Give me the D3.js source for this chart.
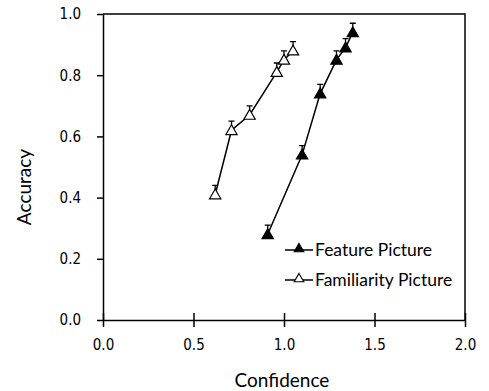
<!DOCTYPE html>
<html>
<head>
<meta charset="utf-8">
<script src="https://cdn.jsdelivr.net/npm/d3@7"></script>
<style>
  body { margin: 0; background: #fff; }
  .tick-label { font-family: "Liberation Sans Narrow", "DejaVu Sans Condensed", sans-serif; font-size: 15px; }
  .lbl { font-family: Lato, "Open Sans", sans-serif; font-size: 19px; }
  .leg { font-family: Lato, "Open Sans", sans-serif; font-size: 17.5px; }
</style>
</head>
<body>
<svg id="chart" width="489" height="391"></svg>
<script>
// data
var featConf = [0.91, 1.10, 1.20, 1.29, 1.34, 1.38];
var featAcc  = [0.28, 0.54, 0.74, 0.85, 0.89, 0.94];
var featErr  = [0.02, 0.02, 0.02, 0.02, 0.02, 0.02];
var famConf  = [0.62, 0.71, 0.81, 0.96, 1.00, 1.05];
var famAcc   = [0.41, 0.62, 0.67, 0.81, 0.85, 0.88];
var famErr   = [0.02, 0.02, 0.02, 0.02, 0.02, 0.02];
var xTicks = [0, 0.5, 1.0, 1.5, 2.0];
var yTicks = [0, 0.2, 0.4, 0.6, 0.8, 1.0];
var seriesNames = ["Feature Picture", "Familiarity Picture"];

var svg = d3.select("#chart");
var x = d3.scaleLinear().domain([0, 2]).range([103, 465]),
    y = d3.scaleLinear().domain([0, 1]).range([320, 14]);

// frame (top + right)
svg.append("path")
    .attr("d", "M" + x(0) + "," + y(1) + "H" + x(2) + "V" + y(0))
    .attr("fill", "none").attr("stroke", "#000").attr("stroke-width", 1.5);

// axes
var xAxis = svg.append("g").attr("transform", "translate(0," + y(0) + ")")
    .call(d3.axisBottom(x).tickValues(xTicks).tickFormat(d3.format(".1f")).tickSizeInner(7).tickSizeOuter(0).tickPadding(12));
xAxis.selectAll(".tick line").attr("y1", -7);
var yAxis = svg.append("g").attr("transform", "translate(" + x(0) + ",0)")
    .call(d3.axisLeft(y).tickValues(yTicks).tickFormat(d3.format(".1f")).tickSizeInner(6).tickSizeOuter(0).tickPadding(16));
[xAxis, yAxis].forEach(function(a) {
    a.select(".domain").attr("stroke-width", 1.5);
    a.selectAll(".tick line").attr("stroke-width", 1.5);
    a.selectAll("text").attr("class", "tick-label").attr("font-size", null).attr("font-family", null).attr("fill", "#000");
});

// axis titles
svg.append("text").attr("class", "lbl").attr("x", 282).attr("y", 387)
    .attr("text-anchor", "middle").text("Confidence");
svg.append("text").attr("class", "lbl")
    .attr("transform", "translate(31,187) rotate(-90)")
    .attr("text-anchor", "middle").text("Accuracy");

var tri = d3.symbol().type(d3.symbolTriangle).size(55);

function drawSeries(cx, cy, err, filled) {
    var pts = cx.map(function(d, i) { return [d, cy[i], err[i]]; });
    var g = svg.append("g");
    g.append("path").datum(pts)
        .attr("d", d3.line().x(function(d) { return x(d[0]); }).y(function(d) { return y(d[1]); }))
        .attr("fill", "none").attr("stroke", "#000").attr("stroke-width", 1.5);
    // error bars (upper)
    g.selectAll(".eb").data(pts).enter().append("path")
        .attr("d", function(d) {
            var px = x(d[0]), top = y(d[1] + d[2]) - 3;
            return "M" + px + "," + y(d[1]) + "V" + top + "M" + (px - 3) + "," + top + "H" + (px + 3);
        })
        .attr("fill", "none").attr("stroke", "#000").attr("stroke-width", 1.3);
    g.selectAll(".pt").data(pts).enter().append("path")
        .attr("d", tri)
        .attr("transform", function(d) { return "translate(" + x(d[0]) + "," + (y(d[1]) + 1) + ")"; })
        .attr("fill", filled ? "#000" : "#fff").attr("stroke", "#000").attr("stroke-width", 1.2);
}
drawSeries(famConf, famAcc, famErr, false);
drawSeries(featConf, featAcc, featErr, true);

// legend
var leg = svg.append("g");
seriesNames.forEach(function(name, i) {
    var ly = 250 + i * 30;
    leg.append("line").attr("x1", 285).attr("x2", 313).attr("y1", ly).attr("y2", ly)
        .attr("stroke", "#000").attr("stroke-width", 1.5);
    leg.append("path").attr("d", d3.symbol().type(d3.symbolTriangle).size(40))
        .attr("transform", "translate(299," + (ly - 1) + ")")
        .attr("fill", i === 0 ? "#000" : "#fff").attr("stroke", "#000").attr("stroke-width", 1.1);
    leg.append("text").attr("class", "leg").attr("x", 315).attr("y", ly + 6).text(name);
});
</script>
</body>
</html>
